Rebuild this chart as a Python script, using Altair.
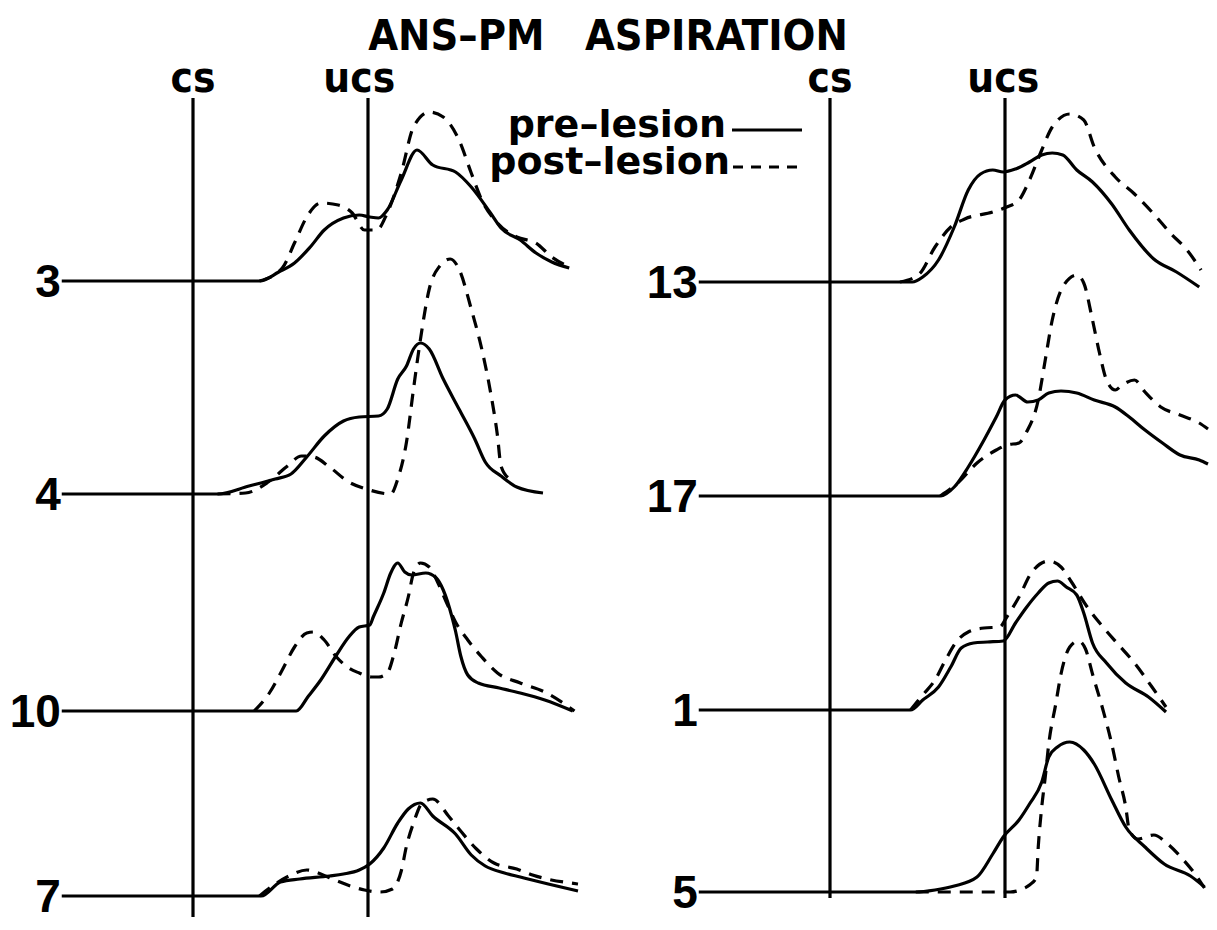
import altair as alt
import pandas as pd

# ---------------- data (time in CS-UCS interval units: cs = 0, ucs = 1; amplitude in arbitrary units)
ROW_LABELS_LEFT = ["3", "4", "10", "7"]
ROW_LABELS_RIGHT = ["13", "17", "1", "5"]
CONDITIONS = ["pre-lesion", "post-lesion"]
STIM_LABELS = ["cs", "ucs"]
STIM_TIMES = [0.0, 1.0]

T3_PRE_T = [-0.75, 0.38, 0.49, 0.58, 0.67, 0.75, 0.86, 0.95, 1.01, 1.06, 1.11, 1.19, 1.28, 1.37, 1.50, 1.59, 1.70, 1.76, 1.87, 1.96, 2.05, 2.15]
T3_PRE_A = [0, 0, 0.09, 0.18, 0.34, 0.51, 0.63, 0.66, 0.64, 0.63, 0.71, 1.01, 1.31, 1.16, 1.09, 0.94, 0.68, 0.53, 0.41, 0.28, 0.19, 0.13]
T3_POST_T = [0.38, 0.51, 0.58, 0.65, 0.73, 0.83, 0.91, 0.98, 1.05, 1.11, 1.19, 1.26, 1.35, 1.43, 1.52, 1.59, 1.65, 1.74, 1.85, 1.96, 2.05, 2.15]
T3_POST_A = [0, 0.13, 0.38, 0.64, 0.78, 0.76, 0.68, 0.51, 0.51, 0.68, 1.08, 1.54, 1.69, 1.64, 1.41, 1.08, 0.81, 0.58, 0.44, 0.38, 0.24, 0.14]

T4_PRE_T = [-0.75, 0.14, 0.32, 0.47, 0.56, 0.65, 0.75, 0.86, 0.95, 1.06, 1.11, 1.17, 1.22, 1.26, 1.30, 1.35, 1.43, 1.52, 1.61, 1.67, 1.76, 1.85, 2.00]
T4_PRE_A = [0, 0, 0.08, 0.15, 0.20, 0.37, 0.58, 0.73, 0.77, 0.78, 0.85, 1.15, 1.28, 1.45, 1.51, 1.45, 1.15, 0.85, 0.55, 0.32, 0.18, 0.07, 0.01]
T4_POST_T = [0.14, 0.30, 0.43, 0.54, 0.62, 0.69, 0.78, 0.89, 0.99, 1.13, 1.17, 1.22, 1.26, 1.30, 1.35, 1.41, 1.47, 1.52, 1.59, 1.65, 1.70, 1.74, 1.76, 1.81]
T4_POST_A = [0, 0.01, 0.12, 0.28, 0.38, 0.37, 0.27, 0.12, 0.05, 0, 0.15, 0.52, 1.05, 1.55, 2.05, 2.28, 2.35, 2.25, 1.85, 1.45, 1.02, 0.58, 0.28, 0.15]

T10_PRE_T = [-0.75, 0.59, 0.66, 0.73, 0.82, 0.89, 0.95, 1.01, 1.03, 1.09, 1.13, 1.17, 1.21, 1.25, 1.33, 1.39, 1.43, 1.48, 1.50, 1.53, 1.57, 1.63, 1.75, 1.87, 2.01, 2.17]
T10_PRE_A = [0, 0, 0.15, 0.31, 0.56, 0.74, 0.84, 0.86, 0.94, 1.18, 1.38, 1.48, 1.39, 1.36, 1.38, 1.33, 1.21, 0.94, 0.80, 0.55, 0.36, 0.28, 0.23, 0.18, 0.11, 0.0]
T10_POST_T = [0.35, 0.44, 0.51, 0.58, 0.65, 0.69, 0.75, 0.82, 0.89, 0.95, 1.02, 1.06, 1.11, 1.15, 1.19, 1.23, 1.26, 1.30, 1.35, 1.40, 1.45, 1.50, 1.57, 1.65, 1.74, 1.87, 2.01, 2.18]
T10_POST_A = [0, 0.19, 0.41, 0.64, 0.78, 0.79, 0.71, 0.54, 0.43, 0.38, 0.34, 0.34, 0.38, 0.58, 0.88, 1.14, 1.38, 1.48, 1.44, 1.28, 1.08, 0.89, 0.71, 0.54, 0.38, 0.28, 0.19, 0.0]

T7_PRE_T = [-0.75, 0.39, 0.50, 0.61, 0.78, 0.86, 0.95, 1.01, 1.09, 1.17, 1.23, 1.30, 1.37, 1.50, 1.59, 1.67, 1.78, 1.87, 2.03, 2.20]
T7_PRE_A = [0, 0, 0.14, 0.17, 0.20, 0.22, 0.26, 0.32, 0.48, 0.73, 0.87, 0.93, 0.80, 0.62, 0.41, 0.30, 0.23, 0.19, 0.12, 0.05]
T7_POST_T = [0.38, 0.47, 0.56, 0.65, 0.73, 0.81, 0.90, 0.98, 1.07, 1.14, 1.19, 1.22, 1.26, 1.31, 1.37, 1.46, 1.52, 1.62, 1.72, 1.85, 1.94, 2.20]
T7_POST_A = [0, 0.12, 0.21, 0.26, 0.22, 0.16, 0.10, 0.06, 0.04, 0.07, 0.25, 0.50, 0.73, 0.93, 0.97, 0.80, 0.67, 0.47, 0.33, 0.27, 0.21, 0.12]

T13_PRE_T = [-0.75, 0.47, 0.53, 0.62, 0.71, 0.79, 0.86, 0.93, 0.99, 1.06, 1.14, 1.21, 1.27, 1.33, 1.41, 1.50, 1.61, 1.71, 1.85, 1.98, 2.11]
T13_PRE_A = [0, 0, 0.05, 0.22, 0.55, 0.92, 1.08, 1.12, 1.10, 1.13, 1.20, 1.27, 1.29, 1.27, 1.12, 1.00, 0.78, 0.52, 0.23, 0.10, -0.05]
T13_POST_T = [0.40, 0.51, 0.60, 0.69, 0.77, 0.93, 1.01, 1.08, 1.14, 1.21, 1.27, 1.37, 1.45, 1.51, 1.63, 1.74, 1.85, 1.95, 2.04, 2.12]
T13_POST_A = [0, 0.08, 0.35, 0.55, 0.63, 0.70, 0.75, 0.82, 1.02, 1.32, 1.55, 1.68, 1.62, 1.35, 1.05, 0.88, 0.68, 0.48, 0.32, 0.12]

T17_PRE_T = [-0.75, 0.63, 0.71, 0.79, 0.88, 0.95, 1.00, 1.06, 1.13, 1.19, 1.25, 1.32, 1.41, 1.51, 1.63, 1.71, 1.80, 1.90, 2.00, 2.11, 2.16]
T17_PRE_A = [0, 0, 0.09, 0.29, 0.56, 0.79, 0.96, 1.01, 0.94, 0.96, 1.03, 1.05, 1.03, 0.96, 0.89, 0.79, 0.66, 0.53, 0.41, 0.36, 0.32]
T17_POST_T = [0.63, 0.73, 0.84, 0.95, 1.01, 1.08, 1.12, 1.19, 1.23, 1.27, 1.33, 1.41, 1.45, 1.50, 1.54, 1.58, 1.63, 1.67, 1.74, 1.80, 1.89, 2.00, 2.11, 2.16]
T17_POST_A = [0, 0.13, 0.33, 0.46, 0.51, 0.53, 0.63, 0.96, 1.36, 1.76, 2.09, 2.21, 2.13, 1.76, 1.43, 1.16, 1.06, 1.11, 1.16, 1.04, 0.89, 0.81, 0.73, 0.67]

T1_PRE_T = [-0.75, 0.46, 0.53, 0.62, 0.69, 0.75, 0.82, 0.90, 0.99, 1.06, 1.12, 1.19, 1.25, 1.30, 1.35, 1.41, 1.45, 1.50, 1.58, 1.69, 1.82, 1.92]
T1_PRE_A = [0, 0, 0.10, 0.23, 0.43, 0.62, 0.67, 0.68, 0.69, 0.87, 1.02, 1.17, 1.27, 1.29, 1.23, 1.15, 0.97, 0.67, 0.47, 0.27, 0.13, -0.02]
T1_POST_T = [0.46, 0.53, 0.60, 0.66, 0.73, 0.79, 0.88, 0.97, 1.01, 1.08, 1.15, 1.25, 1.32, 1.38, 1.47, 1.56, 1.65, 1.74, 1.84, 1.92]
T1_POST_A = [0, 0.15, 0.30, 0.50, 0.70, 0.78, 0.82, 0.83, 0.93, 1.13, 1.37, 1.49, 1.43, 1.28, 1.03, 0.83, 0.65, 0.47, 0.23, 0.03]

T5_PRE_T = [-0.75, 0.49, 0.60, 0.71, 0.84, 0.93, 0.99, 1.08, 1.14, 1.21, 1.25, 1.30, 1.37, 1.45, 1.51, 1.61, 1.69, 1.80, 1.91, 2.06, 2.14]
T5_PRE_A = [0, 0, 0.02, 0.06, 0.15, 0.38, 0.55, 0.72, 0.88, 1.10, 1.35, 1.45, 1.50, 1.42, 1.28, 0.92, 0.65, 0.45, 0.28, 0.16, 0.05]
T5_POST_T = [0.49, 1.03, 1.10, 1.14, 1.18, 1.19, 1.21, 1.23, 1.25, 1.29, 1.32, 1.37, 1.42, 1.46, 1.50, 1.56, 1.61, 1.65, 1.69, 1.71, 1.76, 1.85, 1.93, 2.02, 2.09, 2.14]
T5_POST_A = [0, 0, 0.03, 0.07, 0.15, 0.45, 0.85, 1.15, 1.48, 1.88, 2.18, 2.45, 2.51, 2.43, 2.18, 1.82, 1.48, 1.15, 0.85, 0.62, 0.53, 0.57, 0.48, 0.32, 0.17, 0.04]

TRACE_DATA = {
    "3": (T3_PRE_T, T3_PRE_A, T3_POST_T, T3_POST_A),
    "4": (T4_PRE_T, T4_PRE_A, T4_POST_T, T4_POST_A),
    "10": (T10_PRE_T, T10_PRE_A, T10_POST_T, T10_POST_A),
    "7": (T7_PRE_T, T7_PRE_A, T7_POST_T, T7_POST_A),
    "13": (T13_PRE_T, T13_PRE_A, T13_POST_T, T13_POST_A),
    "17": (T17_PRE_T, T17_PRE_A, T17_POST_T, T17_POST_A),
    "1": (T1_PRE_T, T1_PRE_A, T1_POST_T, T1_POST_A),
    "5": (T5_PRE_T, T5_PRE_A, T5_POST_T, T5_POST_A),
}

# ---------------- layout (panel offsets on the time axis, row baselines on the vertical axis)
W, H = 1201, 914
PX_PER_UNIT = 175.0
XMIN = (8 - 193) / PX_PER_UNIT
XMAX = XMIN + W / PX_PER_UNIT
YMIN, YMAX = 0.0, H / 100.0
PANEL_OFFSET = {"left": 0.0, "right": 3.64}
ROW_BASE = {"3": 6.41, "4": 4.28, "10": 2.11, "7": 0.26,
            "13": 6.40, "17": 4.26, "1": 2.12, "5": 0.30}
PANEL_OF = {**{k: "left" for k in ROW_LABELS_LEFT}, **{k: "right" for k in ROW_LABELS_RIGHT}}
LINE_TOP = 8.24
LINE_BOTTOM = {"left": 0.05, "right": 0.24}

FONT_COND = "Liberation Sans Narrow, DejaVu Sans Condensed, Liberation Sans"
LW = 3.2

rows = []
for lab, (pt, pa, qt, qa) in TRACE_DATA.items():
    off = PANEL_OFFSET[PANEL_OF[lab]]
    base = ROW_BASE[lab]
    for cond, ts, amps in ((CONDITIONS[0], pt, pa), (CONDITIONS[1], qt, qa)):
        for i, (t, a) in enumerate(zip(ts, amps)):
            rows.append({"series": f"{lab}-{cond}", "cond": cond, "i": i,
                         "x": t + off, "y": base + a})
traces = pd.DataFrame(rows)

xs = alt.Scale(domain=[XMIN, XMAX], nice=False, zero=False)
ys = alt.Scale(domain=[YMIN, YMAX], nice=False, zero=False)
X = lambda f="x": alt.X(f"{f}:Q", scale=xs, axis=None)
Y = lambda f="y": alt.Y(f"{f}:Q", scale=ys, axis=None)

pre = alt.Chart(traces).transform_filter(alt.datum.cond == CONDITIONS[0]).mark_line(
    color="black", strokeWidth=LW, interpolate="monotone", strokeJoin="round"
).encode(x=X(), y=Y(), detail="series:N", order="i:Q")

post = alt.Chart(traces).transform_filter(alt.datum.cond == CONDITIONS[1]).mark_line(
    color="black", strokeWidth=LW, interpolate="monotone", strokeDash=[13, 9]
).encode(x=X(), y=Y(), detail="series:N", order="i:Q")

# stimulus marker lines
vl = []
for panel, off in PANEL_OFFSET.items():
    for t in STIM_TIMES:
        vl.append({"x": t + off, "y": LINE_TOP, "y2": LINE_BOTTOM[panel]})
vlines = alt.Chart(pd.DataFrame(vl)).mark_rule(color="black", strokeWidth=LW).encode(
    x=X(), y=Y(), y2="y2:Q")

# stimulus labels
stim_dx = {"left": [0.0, -0.05], "right": [0.0, -0.01]}
sl = []
for panel, off in PANEL_OFFSET.items():
    for lab, t, dx in zip(STIM_LABELS, STIM_TIMES, stim_dx[panel]):
        sl.append({"x": t + off + dx, "y": 8.30, "text": lab})
stim_text = alt.Chart(pd.DataFrame(sl)).mark_text(
    font=FONT_COND, fontSize=42, fontWeight="bold", align="center", baseline="alphabetic"
).encode(x=X(), y=Y(), text="text:N")

# row labels
rl = [{"x": PANEL_OFFSET[PANEL_OF[k]] - 0.755, "y": ROW_BASE[k] - 0.16, "text": k}
      for k in ROW_LABELS_LEFT + ROW_LABELS_RIGHT]
row_text = alt.Chart(pd.DataFrame(rl)).mark_text(
    font="Liberation Sans", fontSize=46, fontWeight="bold", align="right", baseline="alphabetic"
).encode(x=X(), y=Y(), text="text:N")

# title
title = alt.Chart(pd.DataFrame([{"x": XMIN + (608 - 8) / PX_PER_UNIT, "y": 8.72,
                                  "text": "ANS\u2013PM\u00a0\u00a0\u00a0ASPIRATION"}])).mark_text(
    font=FONT_COND, fontSize=43, fontWeight="bold", align="center", baseline="alphabetic"
).encode(x=X(), y=Y(), text="text:N")

# legend (text + line samples)
leg_txt = pd.DataFrame([
    {"x": (726 - 193) / PX_PER_UNIT, "y": 7.85, "text": "pre\u2013lesion"},
    {"x": (730 - 193) / PX_PER_UNIT, "y": 7.48, "text": "post\u2013lesion"},
])
legend_text = alt.Chart(leg_txt).mark_text(
    font="DejaVu Sans", fontSize=38, fontWeight="bold", align="right", baseline="alphabetic"
).encode(x=X(), y=Y(), text="text:N")
leg_pre = alt.Chart(pd.DataFrame([{"x": (732 - 193) / PX_PER_UNIT, "x2": (802 - 193) / PX_PER_UNIT, "y": 7.92}])
                    ).mark_rule(color="black", strokeWidth=3).encode(x=X(), x2="x2:Q", y=Y())
leg_post = alt.Chart(pd.DataFrame([{"x": (733 - 193) / PX_PER_UNIT, "x2": (802 - 193) / PX_PER_UNIT, "y": 7.55}])
                     ).mark_rule(color="black", strokeWidth=3, strokeDash=[10, 8]).encode(x=X(), x2="x2:Q", y=Y())

chart = alt.layer(vlines, pre, post, stim_text, row_text, title, legend_text, leg_pre, leg_post).properties(
    width=W, height=H, padding=0, autosize=alt.AutoSizeParams(type="none"), background="white"
).configure_view(stroke=None)

chart.save("out.html", embed_options={"renderer": "svg", "actions": False})
